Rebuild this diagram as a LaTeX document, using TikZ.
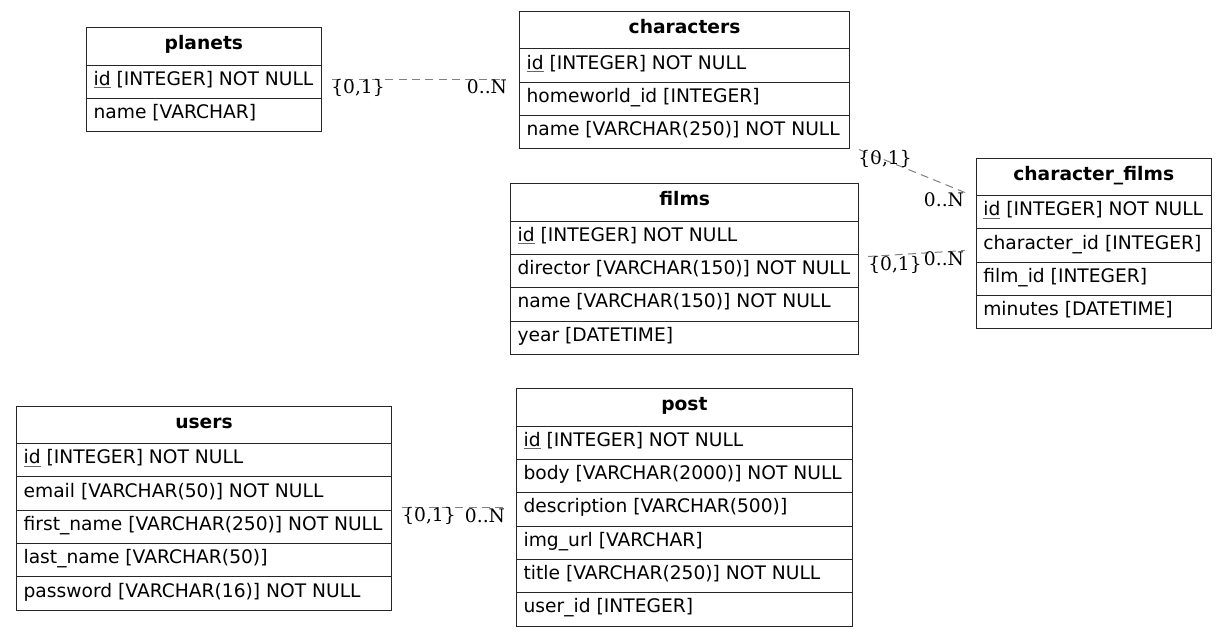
\documentclass[tikz,border=0pt]{standalone}
\usepackage{fontspec}
\setmainfont{DejaVu Sans}
\newfontfamily\lblfont{DejaVu Serif}
\newcommand{\ertable}[6]{%
  \pgfmathsetmacro\ertw{(#4-#2)*0.75-10.6}%
  \node[tblhead] (#1) at (#2,#3) {\makebox[\ertw pt][c]{#5}};
  \foreach \r [count=\i] in {#6} {
    \node[tblrow] (#1-\i) at (#2,{#3+37.33+(\i-1)*33.33}) {\makebox[\ertw pt][l]{\r}};
  }%
}
\newcommand{\pk}{{\color{black!60}\underline{\color{black}id}}}
\begin{document}
\begin{tikzpicture}[x=0.75pt,y=-0.75pt,
  tbl/.style={draw=black!85, line width=0.8pt, inner xsep=5.3pt, inner ysep=0pt,
    text height=10pt, text depth=4.8pt, anchor=north west},
  tblhead/.style={tbl, minimum height=28pt, font=\fontsize{14}{16}\selectfont\bfseries},
  tblrow/.style={tbl, minimum height=25pt, font=\fontsize{14}{16}\selectfont},
  rel/.style={draw=black!50, line width=0.75pt, dash pattern=on 6pt off 4pt},
  card/.style={font=\lblfont\fontsize{14}{16}\selectfont, inner sep=0pt},
]
\useasboundingbox (0,0) rectangle (1227,637);

\ertable{planets}{86}{27.3}{320.7}{planets}{{\pk{} [INTEGER] NOT NULL},{name [VARCHAR]}}
\ertable{characters}{519}{11}{849}{characters}{{\pk{} [INTEGER] NOT NULL},{homeworld\_id [INTEGER]},{name [VARCHAR(250)] NOT NULL}}
\ertable{films}{510}{183.3}{858.3}{films}{{\pk{} [INTEGER] NOT NULL},{director [VARCHAR(150)] NOT NULL},{name [VARCHAR(150)] NOT NULL},{year [DATETIME]}}
\ertable{cf}{975.7}{157.7}{1210.7}{character\_films}{{\pk{} [INTEGER] NOT NULL},{character\_id [INTEGER]},{film\_id [INTEGER]},{minutes [DATETIME]}}
\ertable{users}{16}{405.7}{391}{users}{{\pk{} [INTEGER] NOT NULL},{email [VARCHAR(50)] NOT NULL},{first\_name [VARCHAR(250)] NOT NULL},{last\_name [VARCHAR(50)]},{password [VARCHAR(16)] NOT NULL}}
\ertable{post}{516}{388.3}{851.7}{post}{{\pk{} [INTEGER] NOT NULL},{body [VARCHAR(2000)] NOT NULL},{description [VARCHAR(500)]},{img\_url [VARCHAR]},{title [VARCHAR(250)] NOT NULL},{user\_id [INTEGER]}}

% connector end points
\coordinate (pA) at (332,79);
\coordinate (pB) at (504,79);
\coordinate (cA) at (859,149.5);
\coordinate (cB) at (965,192.5);
\coordinate (fA) at (868,256.5);
\coordinate (fB) at (965,250.5);
\coordinate (uA) at (402,507);
\coordinate (uB) at (505,507);

\draw[rel] (pA) -- (pB);
\draw[rel] (cA) -- (cB);
\draw[rel] (fA) -- (fB);
\draw[rel] (uA) -- (uB);

\node[card] (l1a) at (358,88) {\{0,1\}};
\node[card] (l1b) at (487,87) {0..N};
\node[card] (l2a) at (885,159) {\{0,1\}};
\node[card] (l2b) at (944,200) {0..N};
\node[card] (l3a) at (895,265) {\{0,1\}};
\node[card] (l3b) at (944,259) {0..N};
\node[card] (l4a) at (429,516) {\{0,1\}};
\node[card] (l4b) at (485,516) {0..N};
\end{tikzpicture}
\end{document}
